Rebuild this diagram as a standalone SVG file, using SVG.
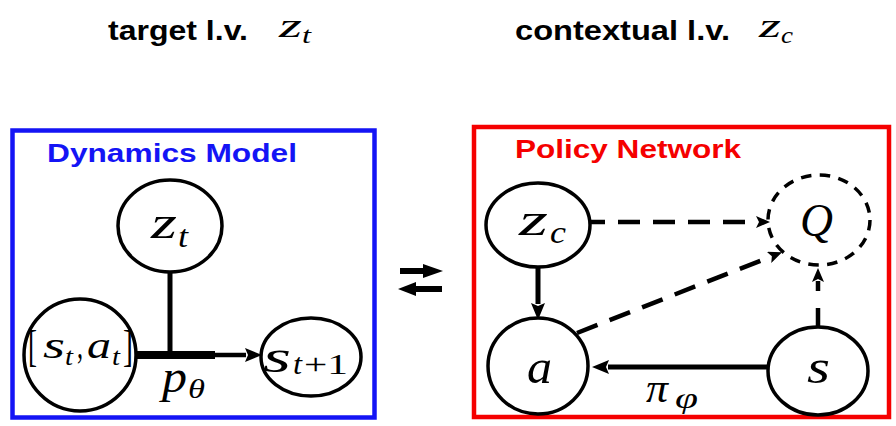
<svg xmlns="http://www.w3.org/2000/svg" width="896" height="426" viewBox="0 0 896 426">
<style>
.bg{fill:#fff}
.node{fill:#fff;stroke:#000;stroke-width:3.5}
.qnode{fill:none;stroke:#000;stroke-width:3.5;stroke-dasharray:10.5 8.4}
.sans{font-family:"Liberation Sans",Arial,sans-serif;font-weight:bold}
.math{font-family:"Liberation Serif","Times New Roman",serif;font-style:italic;fill:#000}
.rm{font-style:normal}
.conn{fill:none;stroke:#000}
.dash{fill:none;stroke:#000;stroke-width:4.5}
</style>
<defs>
<marker id="ah" viewBox="0 -7 17 14" refX="1" refY="0" markerWidth="17" markerHeight="14" orient="auto" markerUnits="userSpaceOnUse">
<path d="M0,-7 L17,0 L0,7 L3,0 z" fill="#000"/>
</marker>
<marker id="ahs" viewBox="0 -6 14 12" refX="1" refY="0" markerWidth="14" markerHeight="12" orient="auto" markerUnits="userSpaceOnUse">
<path d="M0,-6 L14,0 L0,6 L3,0 z" fill="#000"/>
</marker>
</defs>
<rect class="bg" x="0" y="0" width="896" height="426"/>

<g id="titles">
<text class="sans" x="108" y="40" font-size="28" textLength="140" lengthAdjust="spacingAndGlyphs">target l.v.</text>
<text class="math" font-size="34"><tspan x="279" y="37" textLength="23" lengthAdjust="spacingAndGlyphs">z</tspan><tspan x="302" y="43" font-size="24" textLength="9" lengthAdjust="spacingAndGlyphs">t</tspan></text>
<text class="sans" x="515" y="40" font-size="28" textLength="215" lengthAdjust="spacingAndGlyphs">contextual l.v.</text>
<text class="math" font-size="34"><tspan x="759" y="37" textLength="22" lengthAdjust="spacingAndGlyphs">z</tspan><tspan x="781" y="43" font-size="24" textLength="12" lengthAdjust="spacingAndGlyphs">c</tspan></text>
</g>

<g id="dynamics-model">
<rect x="12.5" y="130.5" width="362" height="287" fill="none" stroke="#1414f5" stroke-width="4.5"/>
<text class="sans" x="47" y="162" font-size="25" fill="#1414f5" textLength="250" lengthAdjust="spacingAndGlyphs">Dynamics Model</text>
</g>

<g id="policy-network">
<rect x="474" y="127" width="415" height="290" fill="none" stroke="#f50000" stroke-width="4.5"/>
<text class="sans" x="515" y="158" font-size="26" fill="#f50000" textLength="226" lengthAdjust="spacingAndGlyphs">Policy Network</text>
</g>

<g id="connectors">
<line class="conn" x1="170" y1="272" x2="170" y2="355" style="stroke-width:5"/>
<line class="conn" x1="136" y1="355" x2="215" y2="355" style="stroke-width:8"/>
<line class="conn" x1="214" y1="355" x2="246" y2="355" style="stroke-width:4.5" marker-end="url(#ah)"/>
<line class="conn" x1="538" y1="267" x2="538" y2="304" style="stroke-width:5" marker-end="url(#ah)"/>
<line class="conn" x1="768" y1="367" x2="608" y2="367" style="stroke-width:5" marker-end="url(#ah)"/>
<line class="dash" x1="590" y1="222" x2="757" y2="222" style="stroke-dasharray:22 13;stroke-dashoffset:7" marker-end="url(#ahs)"/>
<line class="dash" x1="577" y1="333" x2="770" y2="257" style="stroke-dasharray:22 13" marker-end="url(#ahs)"/>
<line class="dash" x1="818" y1="327" x2="818" y2="281" style="stroke-dasharray:19 17" marker-end="url(#ahs)"/>
</g>

<g id="exchange-arrows">
<line x1="400" y1="271" x2="425" y2="271" stroke="#000" stroke-width="6"/>
<path d="M423,264 L443,271 L423,278 z" fill="#000"/>
<line x1="414" y1="289" x2="442" y2="289" stroke="#000" stroke-width="6"/>
<path d="M416,282 L398,289 L416,296 z" fill="#000"/>
</g>

<g id="node-zt">
<ellipse class="node" cx="170" cy="226" rx="52" ry="46"/>
<text class="math" font-size="46"><tspan x="151" y="238" textLength="26" lengthAdjust="spacingAndGlyphs">z</tspan><tspan x="178" y="247" font-size="32" textLength="10" lengthAdjust="spacingAndGlyphs">t</tspan></text>
</g>

<g id="node-st-at">
<ellipse class="node" cx="80" cy="355" rx="56" ry="56"/>
<text class="math" font-size="38"><tspan class="rm" x="28" y="361" font-size="44" textLength="9" lengthAdjust="spacingAndGlyphs">[</tspan><tspan x="43" y="358" textLength="22" lengthAdjust="spacingAndGlyphs">s</tspan><tspan x="65" y="365" font-size="26" textLength="8" lengthAdjust="spacingAndGlyphs">t</tspan><tspan class="rm" x="77" y="358" textLength="6" lengthAdjust="spacingAndGlyphs">,</tspan><tspan x="87" y="358" textLength="24" lengthAdjust="spacingAndGlyphs">a</tspan><tspan x="112" y="365" font-size="26" textLength="8" lengthAdjust="spacingAndGlyphs">t</tspan><tspan class="rm" x="123" y="361" font-size="44" textLength="10" lengthAdjust="spacingAndGlyphs">]</tspan></text>
</g>

<g id="node-st1">
<ellipse class="node" cx="311" cy="357" rx="50" ry="39"/>
<text class="math" font-size="46"><tspan x="263" y="372" textLength="28" lengthAdjust="spacingAndGlyphs">s</tspan><tspan x="293" y="374" font-size="30" textLength="9" lengthAdjust="spacingAndGlyphs">t</tspan><tspan class="rm" x="304" y="374" font-size="30" textLength="44" lengthAdjust="spacingAndGlyphs">+1</tspan></text>
</g>

<g id="label-ptheta">
<text class="math" font-size="46"><tspan x="162" y="392" textLength="25" lengthAdjust="spacingAndGlyphs">p</tspan><tspan x="188" y="398" font-size="28" textLength="17" lengthAdjust="spacingAndGlyphs">θ</tspan></text>
</g>

<g id="node-zc">
<ellipse class="node" cx="538" cy="225" rx="52" ry="42"/>
<text class="math" font-size="46"><tspan x="519" y="235" textLength="29" lengthAdjust="spacingAndGlyphs">z</tspan><tspan x="550" y="243" font-size="32" textLength="16" lengthAdjust="spacingAndGlyphs">c</tspan></text>
</g>

<g id="node-q">
<ellipse class="qnode" cx="819" cy="220" rx="51" ry="45"/>
<text class="math" x="800" y="236" font-size="46" textLength="33" lengthAdjust="spacingAndGlyphs">Q</text>
</g>

<g id="node-a">
<ellipse class="node" cx="538" cy="366" rx="50" ry="48"/>
<text class="math" x="527" y="383" font-size="48" textLength="25" lengthAdjust="spacingAndGlyphs">a</text>
</g>

<g id="node-s">
<ellipse class="node" cx="818" cy="371" rx="50" ry="44"/>
<text class="math" x="807" y="383" font-size="48" textLength="23" lengthAdjust="spacingAndGlyphs">s</text>
</g>

<g id="label-pi">
<text class="math" font-size="42"><tspan x="646" y="402" textLength="22" lengthAdjust="spacingAndGlyphs">π</tspan><tspan x="675" y="408" font-size="30" textLength="23" lengthAdjust="spacingAndGlyphs">φ</tspan></text>
</g>
</svg>
